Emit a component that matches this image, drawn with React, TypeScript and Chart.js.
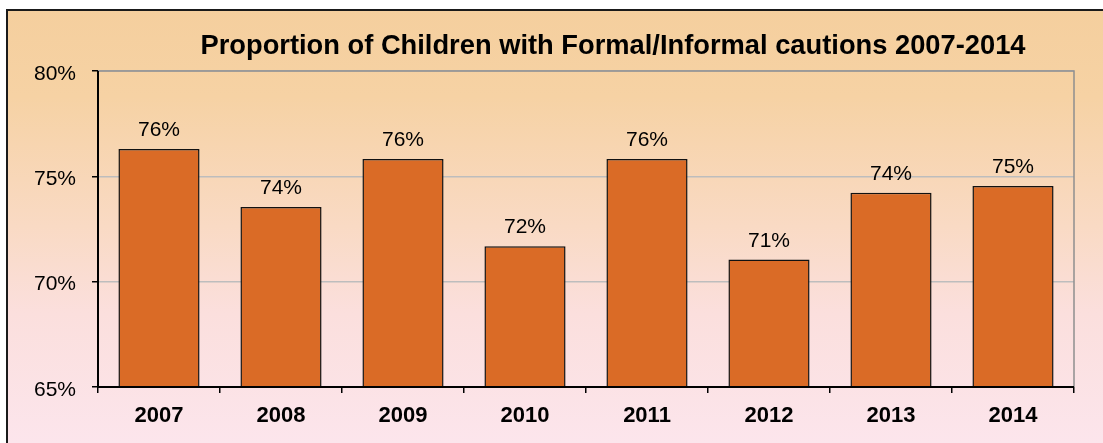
import React, { useEffect, useRef } from "react";
import { Chart, registerables } from "chart.js";

Chart.register(...registerables);

const TITLE = "Proportion of Children with Formal/Informal cautions 2007-2014";
const years = ["2007", "2008", "2009", "2010", "2011", "2012", "2013", "2014"];
const proportions = [76.3, 73.55, 75.82, 71.68, 75.82, 71.05, 74.22, 74.54];
const yTicks = [65, 70, 75, 80];

const FONT = "'Liberation Sans', Arial, sans-serif";

const decorPlugin = {
  id: "decor",
  beforeDraw(chart: any) {
    const { ctx, width, height } = chart;
    ctx.save();
    ctx.fillStyle = "#ffffff";
    ctx.fillRect(0, 0, width, height);
    const g = ctx.createLinearGradient(0, 10, 0, height);
    g.addColorStop(0, "#F5CF9E");
    g.addColorStop(0.2, "#F6D2A4");
    g.addColorStop(0.5, "#F9DAC4");
    g.addColorStop(0.7, "#FBDFDD");
    g.addColorStop(1, "#FCE5EC");
    ctx.fillStyle = g;
    ctx.fillRect(7, 10, width - 7, height - 10);
    ctx.strokeStyle = "#1a1a1a";
    ctx.lineWidth = 2;
    ctx.beginPath();
    ctx.moveTo(width + 2, 10);
    ctx.lineTo(7, 10);
    ctx.lineTo(7, height + 2);
    ctx.stroke();
    // title
    ctx.fillStyle = "#000";
    ctx.font = "bold 27.3px " + FONT;
    ctx.textAlign = "center";
    ctx.textBaseline = "alphabetic";
    ctx.fillText(TITLE, 613, 54);
    ctx.restore();
  },
  afterDraw(chart: any) {
    const { ctx, chartArea } = chart;
    ctx.save();
    ctx.strokeStyle = "#8f8f8f";
    ctx.lineWidth = 1.5;
    ctx.beginPath();
    ctx.moveTo(chartArea.left, chartArea.top);
    ctx.lineTo(chartArea.right, chartArea.top);
    ctx.lineTo(chartArea.right, chartArea.bottom);
    ctx.stroke();
    // axes lines on top
    ctx.strokeStyle = "#000";
    ctx.lineWidth = 2;
    ctx.beginPath();
    ctx.moveTo(chartArea.left, chartArea.top);
    ctx.lineTo(chartArea.left, chartArea.bottom);
    ctx.lineTo(chartArea.right, chartArea.bottom);
    ctx.stroke();
    // data labels
    const meta = chart.getDatasetMeta(0);
    ctx.fillStyle = "#000";
    ctx.font = "21px " + FONT;
    ctx.textAlign = "center";
    ctx.textBaseline = "alphabetic";
    meta.data.forEach((bar: any, i: number) => {
      const v = chart.data.datasets[0].data[i] as number;
      ctx.fillText(Math.round(v) + "%", bar.x, bar.y - 13);
    });
    ctx.restore();
  },
};

export default function App() {
  const ref = useRef<HTMLCanvasElement>(null);
  useEffect(() => {
    if (!ref.current) return;
    const chart = new Chart(ref.current, {
      type: "bar",
      data: {
        labels: years,
        datasets: [
          {
            data: proportions,
            backgroundColor: "#DA6B26",
            borderColor: "#111",
            borderWidth: 1.5,
            categoryPercentage: 1,
            barPercentage: 0.665,
          },
        ],
      },
      options: {
        animation: false,
        responsive: false,
        maintainAspectRatio: false,
        layout: { padding: { left: 0, top: 71, right: 29, bottom: 0 } },
        plugins: {
          legend: { display: false },
          title: { display: false },
          tooltip: { enabled: false },
        },
        scales: {
          x: {
            afterFit: (s: any) => {
              s.height = 56;
            },
            border: { display: false },
            grid: {
              drawOnChartArea: false,
              drawTicks: true,
              tickLength: 6,
              tickColor: "#000",
              lineWidth: 1.5,
              offset: true,
            },
            ticks: {
              color: "#000",
              font: { family: FONT, size: 22, weight: "bold" },
              padding: 10,
            },
          },
          y: {
            min: 65,
            max: 80,
            afterFit: (s: any) => {
              s.width = 98;
            },
            afterBuildTicks: (s: any) => {
              s.ticks = yTicks.map((v) => ({ value: v }));
            },
            border: { display: false },
            grid: {
              color: "#BDBDBD",
              lineWidth: 1.5,
              tickLength: 6,
              tickColor: "#000",
            },
            ticks: {
              color: "#000",
              font: { family: FONT, size: 21 },
              padding: 16,
              labelOffset: 3,
              callback: (v: any) => v + "%",
            },
          },
        },
      },
      plugins: [decorPlugin],
    });
    return () => chart.destroy();
  }, []);
  return (
    <div style={{ position: "absolute", left: 0, top: 0, width: 1103, height: 443 }}>
      <canvas ref={ref} width={1103} height={443} style={{ width: 1103, height: 443 }} />
    </div>
  );
}
